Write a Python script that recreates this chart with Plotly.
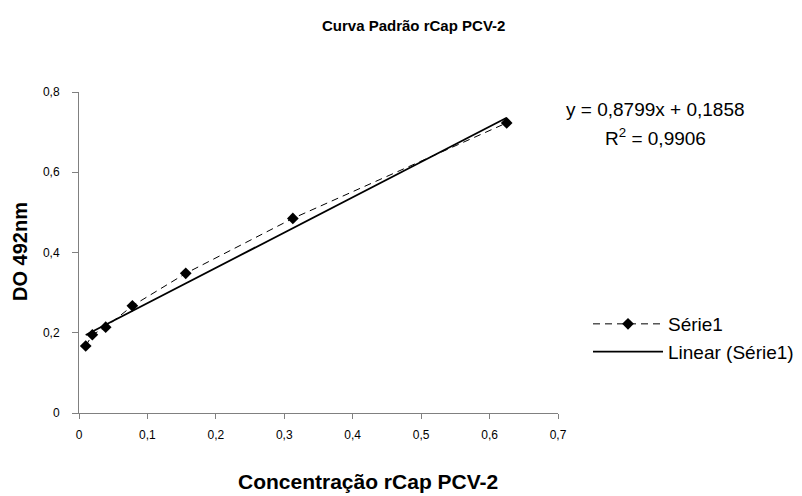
import plotly.graph_objects as go
import numpy as np

# Data
conc = [0.0098, 0.0195, 0.039, 0.078, 0.156, 0.3125, 0.625]
od492 = [0.167, 0.195, 0.214, 0.267, 0.348, 0.485, 0.723]
slope = 0.8799
intercept = 0.1858
r2 = 0.9906
x_ticks = [0, 0.1, 0.2, 0.3, 0.4, 0.5, 0.6, 0.7]
y_ticks = [0, 0.2, 0.4, 0.6, 0.8]

FONT = "Liberation Sans, Arial, sans-serif"

trend_x = np.array([min(conc), max(conc)])
trend_y = slope * trend_x + intercept

fig = go.Figure()
fig.add_trace(go.Scatter(
    x=conc, y=od492, mode="lines+markers", name="Série1",
    line=dict(color="black", width=1, dash="7px,5px"),
    marker=dict(symbol="diamond", size=9, color="black"),
))
fig.add_trace(go.Scatter(
    x=trend_x, y=trend_y, mode="lines", name="Linear (Série1)",
    line=dict(color="black", width=1.8),
))

def fmt(v):
    return f"{v:.4f}".replace(".", ",")

L, R, T, B = 79, 244, 92, 83
W, H = 802, 496
pw, ph = W - L - R, H - T - B
def px(x):
    return (x - L) / pw
def py(y):
    return (H - B - y) / ph

annotations = [
    dict(text="<b>Curva Padrão rCap PCV-2</b>", x=px(413), y=py(25),
         font=dict(size=15, family=FONT, color="black")),
    dict(text="<b>Concentração rCap PCV-2</b>", x=px(368), y=py(481),
         font=dict(size=21, family=FONT, color="black")),
    dict(text="<b>DO 492nm</b>", x=px(20), y=py(252), textangle=-90,
         font=dict(size=20, family=FONT, color="black")),
    dict(text=f"y = {fmt(slope)}x + {fmt(intercept)}", x=px(655), y=py(109),
         font=dict(size=19, family=FONT, color="black")),
    dict(text=f"R<sup>2</sup> = {fmt(r2)}", x=px(655), y=py(137),
         font=dict(size=19, family=FONT, color="black")),
]
for a in annotations:
    a.update(xref="paper", yref="paper", showarrow=False,
             xanchor="center", yanchor="middle")

axis_common = dict(
    showgrid=False, zeroline=False, showline=True, linecolor="#808080",
    linewidth=1, ticks="outside", tickcolor="#808080",
    tickfont=dict(size=12, family=FONT, color="black"),
)

fig.update_layout(
    width=W, height=H,
    margin=dict(l=L, r=R, t=T, b=B, autoexpand=False),
    paper_bgcolor="white", plot_bgcolor="white",
    separators=", ",
    font=dict(family=FONT, color="black"),
    xaxis=dict(range=[0, 0.7], tickvals=x_ticks, ticklen=5,
               ticklabelstandoff=6, automargin=False, **axis_common),
    yaxis=dict(range=[0, 0.8], tickvals=y_ticks, ticklen=6,
               ticklabelstandoff=10, automargin=False, **axis_common),
    annotations=annotations,
    showlegend=True,
    legend=dict(x=px(588), y=py(305), xanchor="left", yanchor="top",
                font=dict(size=19, family=FONT, color="black"),
                bgcolor="rgba(0,0,0,0)", itemwidth=70, tracegroupgap=0),
)

fig.write_html("out.html")
